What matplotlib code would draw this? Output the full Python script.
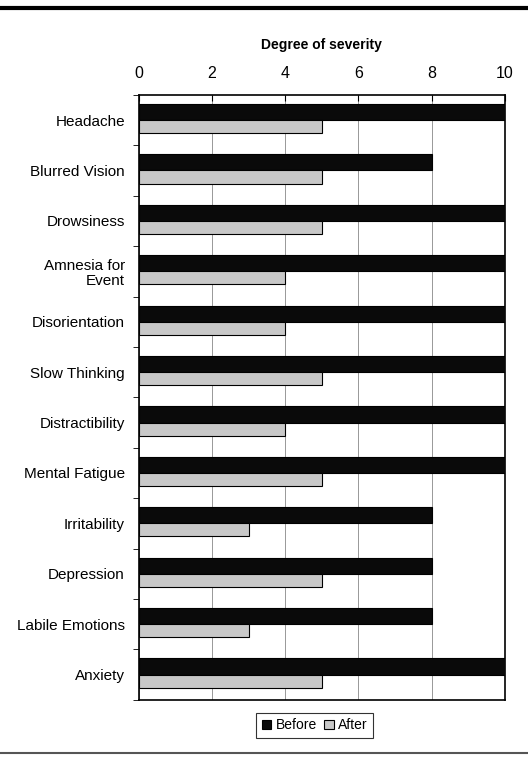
import numpy as np
from matplotlib import pyplot as plt
from matplotlib.ticker import FixedLocator

symptoms = ['Headache', 'Blurred Vision', 'Drowsiness', 'Amnesia for\nEvent',
            'Disorientation', 'Slow Thinking', 'Distractibility', 'Mental Fatigue',
            'Irritability', 'Depression', 'Labile Emotions', 'Anxiety']
before = [10, 8, 10, 10, 10, 10, 10, 10, 8, 8, 8, 10]
after = [5, 5, 5, 4, 4, 5, 4, 5, 3, 5, 3, 5]

plt.rcParams['font.family'] = ['Liberation Sans', 'DejaVu Sans']

fig = plt.figure(figsize=(5.28, 7.59), dpi=100)
ax = fig.add_axes([0.263, 0.078, 0.693, 0.797])

y = np.arange(len(symptoms))
hb, ha = 0.32, 0.26
ax.barh(y - hb/2, before, height=hb, color='#0a0a0a', edgecolor='black', lw=0.8,
        label='Before', zorder=3)
ax.barh(y + ha/2, after, height=ha, color='#c8c8c8', edgecolor='black', lw=0.8,
        label='After', zorder=3)

ax.set_xlim(0, 10)
ax.set_ylim(len(symptoms) - 0.5, -0.5)
ax.xaxis.tick_top()
ax.xaxis.set_label_position('top')
ax.set_xticks(np.arange(0, 11, 2))
ax.tick_params(axis='x', direction='in', length=4, labelsize=11.5, pad=10)
ax.set_xlabel('Degree of severity', fontsize=10, fontweight='bold', labelpad=12)
ax.grid(axis='x', color='#888888', lw=0.6, zorder=0)

ax.set_yticks(y)
ax.set_yticklabels(symptoms, fontsize=11, linespacing=1.1)
ax.tick_params(axis='y', length=0, pad=10)
ax.yaxis.set_minor_locator(FixedLocator(np.arange(-0.5, len(symptoms), 1)))
ax.tick_params(axis='y', which='minor', length=4, direction='out')
for s in ax.spines.values():
    s.set_linewidth(1.2)

leg = ax.legend(loc='upper center', bbox_to_anchor=(0.48, -0.01), ncol=2,
                frameon=True, fancybox=False, edgecolor='black', fontsize=10,
                handlelength=0.7, handleheight=0.7, handletextpad=0.3,
                columnspacing=0.5, borderpad=0.4)
leg.get_frame().set_linewidth(0.8)

fig.add_artist(plt.Line2D([0.0, 1.0], [0.989, 0.989], color='black', lw=3))
fig.add_artist(plt.Line2D([0.0, 1.0], [0.008, 0.008], color='#555555', lw=1.5))

fig.savefig('out.png', dpi=100)
